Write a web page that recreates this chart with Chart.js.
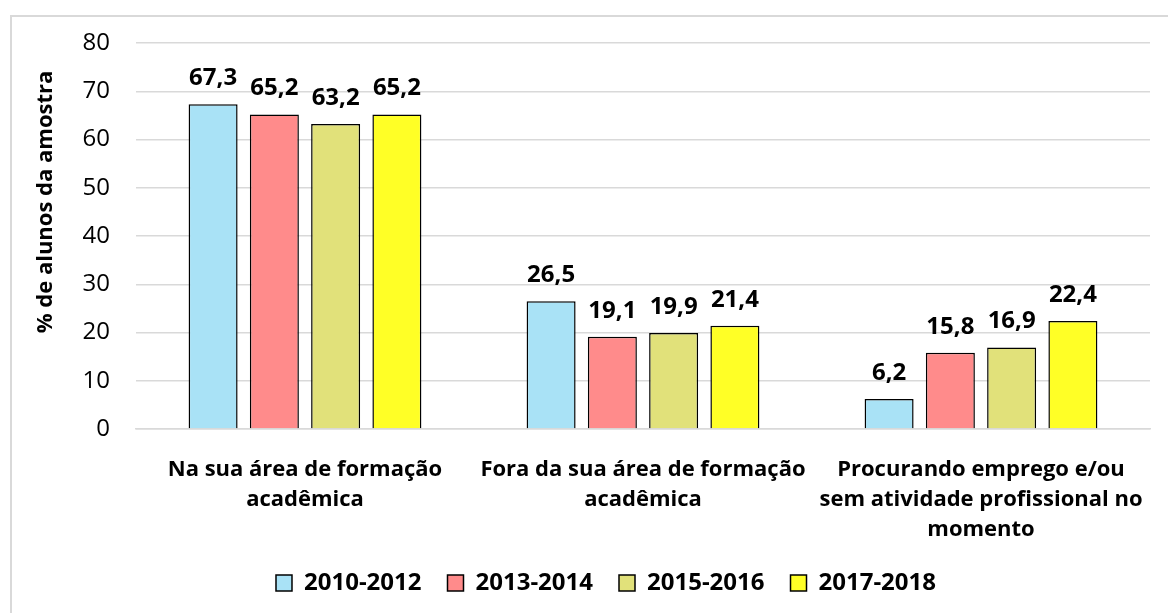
<!DOCTYPE html>
<html>
<head>
<meta charset="utf-8">
<script src="https://cdn.jsdelivr.net/npm/chart.js@4"></script>
<style>
    html, body { margin: 0; padding: 0; background: #fff; }
    #wrap { position: relative; width: 1168px; height: 613px; overflow: hidden; }
    #frame { position: absolute; left: 10px; top: 15px; width: 1200px; height: 700px;
             border-top: 2px solid #d9d9d9; border-left: 2px solid #d9d9d9; }
    canvas { position: absolute; left: 0; top: 0; }
</style>
</head>
<body>
<div id="wrap">
    <div id="frame"></div>
    <canvas id="chart" width="1168" height="613"></canvas>
</div>
<script>
// categorias
const categories = [
    ['Na sua área de formação', 'acadêmica'],
    ['Fora da sua área de formação', 'acadêmica'],
    ['Procurando emprego e/ou', 'sem atividade profissional no', 'momento']
];
// séries
const seriesNames = ['2010-2012', '2013-2014', '2015-2016', '2017-2018'];
const values2010 = [67.3, 26.5, 6.2];
const values2013 = [65.2, 19.1, 15.8];
const values2015 = [63.2, 19.9, 16.9];
const values2017 = [65.2, 21.4, 22.4];
const seriesColors = ['#a9e2f6', '#ff8b8b', '#e1e17a', '#ffff26'];
// eixo y
const yTicks = [0, 10, 20, 30, 40, 50, 60, 70, 80];
const yTitle = '% de alunos da amostra';

const FONT = "'Open Sans', sans-serif";

const datasets = [values2010, values2013, values2015, values2017].map((data, i) => ({
    label: seriesNames[i],
    data: data,
    backgroundColor: seriesColors[i],
    borderColor: '#000',
    borderWidth: 1.5,
    categoryPercentage: 0.725,
    barPercentage: 0.8
}));

// rótulos de dados acima das barras
const barLabels = {
    id: 'barLabels',
    afterDatasetsDraw(chart) {
        const { ctx } = chart;
        ctx.save();
        ctx.font = 'bold 24px ' + FONT;
        ctx.fillStyle = '#000';
        ctx.textAlign = 'center';
        ctx.textBaseline = 'alphabetic';
        chart.data.datasets.forEach((ds, di) => {
            chart.getDatasetMeta(di).data.forEach((bar, i) => {
                const text = ds.data[i].toFixed(1).replace('.', ',');
                ctx.fillText(text, bar.x, bar.y - 19);
            });
        });
        ctx.restore();
    }
};

// título do eixo y (um pouco acima do centro, como no original)
const axisTitle = {
    id: 'axisTitle',
    afterDraw(chart) {
        const { ctx } = chart;
        ctx.save();
        ctx.translate(46, 202);
        ctx.rotate(-Math.PI / 2);
        ctx.font = 'bold 22px ' + FONT;
        ctx.fillStyle = '#000';
        ctx.textAlign = 'center';
        ctx.textBaseline = 'middle';
        ctx.fillText(yTitle, 0, 0);
        ctx.restore();
    }
};

new Chart(document.getElementById('chart').getContext('2d'), {
    type: 'bar',
    data: { labels: categories, datasets: datasets },
    options: {
        responsive: false,
        animation: false,
        layout: { padding: { top: 43, right: 18, left: 62, bottom: 8 } },
        plugins: {
            legend: {
                position: 'bottom',
                labels: {
                    color: '#000',
                    font: { family: FONT, size: 24, weight: 'bold' },
                    boxWidth: 16,
                    boxHeight: 16,
                    padding: 26,
                    generateLabels(chart) {
                        return chart.data.datasets.map((ds, i) => ({
                            text: ds.label,
                            fillStyle: ds.backgroundColor,
                            strokeStyle: '#000',
                            lineWidth: 1.5,
                            datasetIndex: i
                        }));
                    }
                }
            },
            tooltip: { enabled: false }
        },
        scales: {
            x: {
                grid: { display: false },
                border: { color: '#d9d9d9', width: 1.5 },
                ticks: {
                    color: '#000',
                    font: { family: FONT, size: 22, weight: 'bold', lineHeight: '30px' },
                    padding: 18,
                    maxRotation: 0,
                    autoSkip: false
                },
                afterFit(scale) { scale.height = 116; }
            },
            y: {
                min: 0,
                max: 80,
                afterBuildTicks(scale) { scale.ticks = yTicks.map(v => ({ value: v })); },
                grid: { color: '#d9d9d9', lineWidth: 1.5, drawTicks: false },
                border: { display: false },
                ticks: {
                    color: '#000',
                    font: { family: FONT, size: 24 },
                    padding: 26
                },
                afterFit(scale) { scale.width = 74; }
            }
        }
    },
    plugins: [barLabels, axisTitle]
});
</script>
</body>
</html>
